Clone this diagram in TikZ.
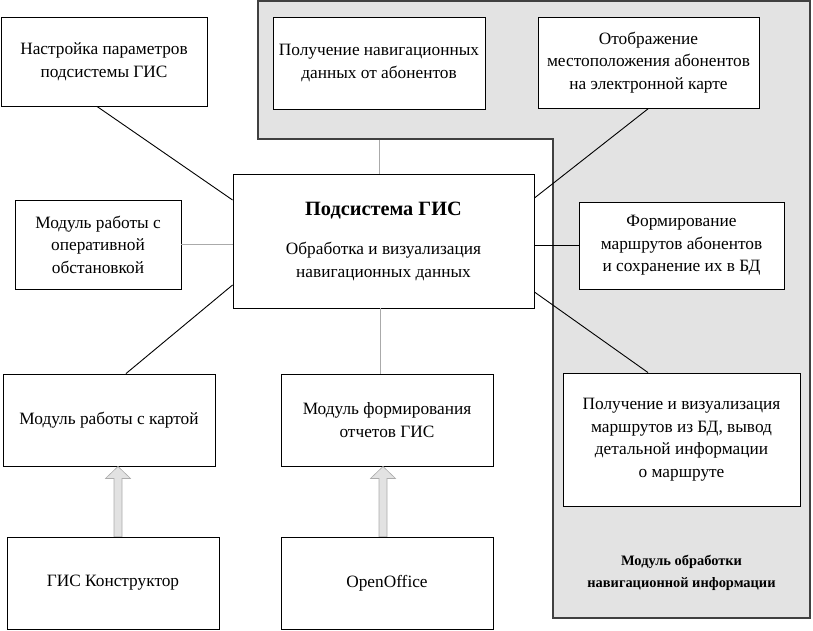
\documentclass[tikz,border=0pt]{standalone}
\usepackage{fontspec}
\setmainfont{Liberation Serif}
\usetikzlibrary{arrows.meta,backgrounds,calc}

\definecolor{zonegray}{RGB}{227,227,227}
\definecolor{linkgray}{RGB}{170,170,170}
\definecolor{feedgray}{RGB}{226,226,226}

\tikzset{
  block/.style={draw, fill=white, line width=0.9pt, align=center, inner sep=2pt,
    font=\fontsize{17.3}{22.5}\selectfont},
  link/.style={line width=0.9pt},
  softlink/.style={draw=linkgray, line width=0.8pt},
  zone/.style={fill=zonegray, draw=black!75, line width=1.1pt},
  feed/.style={draw=gray!65, fill=feedgray, line width=0.6pt,
    to path={let \p1=(\tikztostart), \p2=(\tikztotarget) in
      (\x1-4pt,\y1) -- (\x1-4pt,\y2-12pt) -- (\x1-12.5pt,\y2-12pt) -- (\x1,\y2)
      -- (\x1+12.5pt,\y2-12pt) -- (\x1+4pt,\y2-12pt) -- (\x1+4pt,\y1) -- cycle}},
}

\begin{document}
\begin{tikzpicture}[x=1pt,y=-1pt]
  \useasboundingbox (0,0) rectangle (813,630);

  % boxes
  \node[block, minimum width=206pt, minimum height=89pt] (setup) at (104,61.5)
    {Настройка параметров\\подсистемы ГИС};
  \node[block, minimum width=166pt, minimum height=89pt] (opmod) at (98,244.5)
    {Модуль работы с\\оперативной\\обстановкой};
  \node[block, minimum width=301pt, minimum height=134pt] (gis) at (383.5,241)
    {{\bfseries\fontsize{20.3}{23}\selectfont Подсистема ГИС}\\[17pt]
     Обработка и визуализация\\навигационных данных};
  \node[block, minimum width=212pt, minimum height=92pt] (navrecv) at (379,63)
    {Получение навигационных\\данных от абонентов};
  \node[block, minimum width=221pt, minimum height=91pt] (display) at (648.5,62.5)
    {Отображение\\местоположения абонентов\\на электронной карте};
  \node[block, minimum width=205pt, minimum height=87pt] (routes) at (681.5,245.5)
    {Формирование\\маршрутов абонентов\\и сохранение их в БД};
  \node[block, minimum width=237pt, minimum height=133pt] (routeview) at (681.5,439.5)
    {Получение и визуализация\\маршрутов из БД, вывод\\детальной информации\\о маршруте};
  \node[block, minimum width=212pt, minimum height=92pt] (mapmod) at (109,420)
    {Модуль работы с картой};
  \node[block, minimum width=212pt, minimum height=92pt] (reports) at (387,420)
    {Модуль формирования\\отчетов ГИС};
  \node[block, minimum width=212pt, minimum height=92pt] (gisc) at (113,583)
    {ГИС Конструктор};
  \node[block, minimum width=212pt, minimum height=92pt] (office) at (387,583)
    {OpenOffice};
  \node[align=center, font=\bfseries\fontsize{14.4}{22}\selectfont] (caption) at (681.5,573)
    {Модуль обработки\\навигационной информации};

  % gray area behind the right group
  \begin{scope}[on background layer]
    \draw[softlink] (navrecv.south |- gis.north) -- (navrecv.south);
    \draw[zone] (258,1) -- (810,1) -- (810,618) -- (553,618) -- (553,139)
      -- (258,139) -- cycle;
  \end{scope}

  % links
  \draw[link] ([xshift=-7pt]setup.south) -- ([yshift=41pt]gis.west);
  \draw[softlink] (opmod.east) -- (opmod.east -| gis.west);
  \draw[link] ([yshift=43pt]gis.east) -- (display.south);
  \draw[link] (gis.east |- routes.west) -- (routes.west);
  \draw[link] ([yshift=-51pt]gis.east) -- ([xshift=-33.5pt]routeview.north);
  \draw[link] ([yshift=-44pt]gis.west) -- ([xshift=17pt]mapmod.north);
  \draw[softlink] ([xshift=-3.5pt]gis.south) -- ([xshift=-3.5pt]gis.south |- reports.north);

  % data sources
  \draw[feed] ([xshift=5pt]gisc.north) to ([xshift=5pt]gisc.north |- mapmod.south);
  \draw[feed] ([xshift=-4pt]office.north) to ([xshift=-4pt]office.north |- reports.south);
\end{tikzpicture}
\end{document}
